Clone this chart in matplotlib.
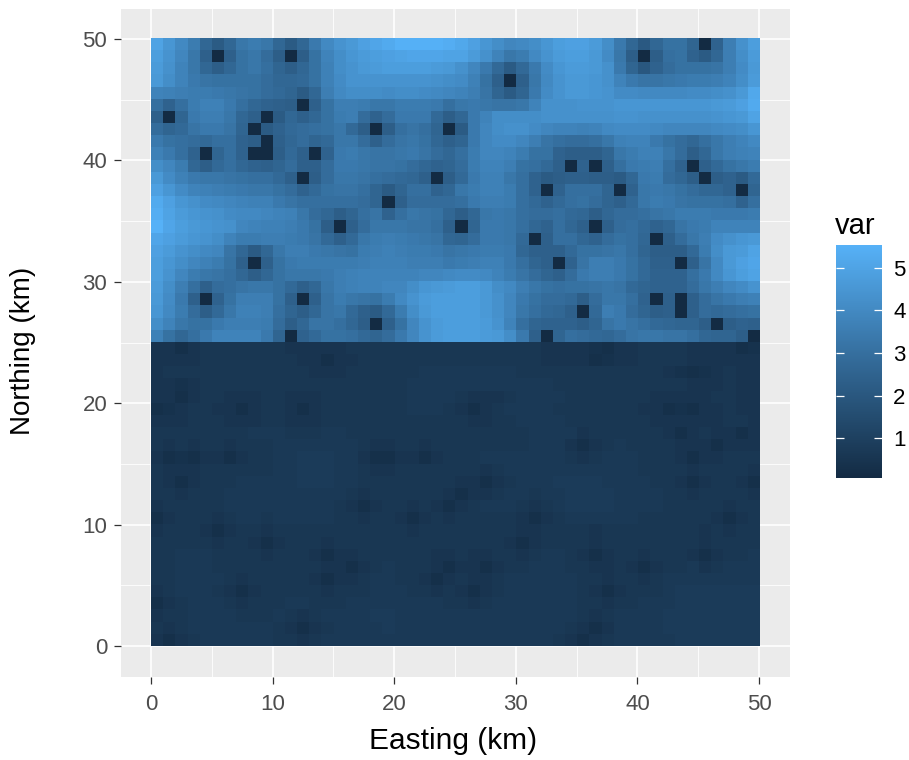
"""Northing/Easting raster of var, ggplot look."""

import matplotlib
matplotlib.use("Agg")
import matplotlib.pyplot as plt
import numpy as np
from matplotlib.colors import LinearSegmentedColormap

plt.rcParams["font.family"] = ["Liberation Sans", "DejaVu Sans"]

# var x 10, one row per northing cell from 49 (top) down to 25
UPPER_ROWS = [
    [50,45,40,35,27,22,27,33,35,33,27,22,27,34,40,44,46,49,51,53,55,55,55,55,54, 52,49,45,42,39,40,42,45,48,49,49,47,42,34,27,21,27,31,31,26,1,25,36,43,48],
    [48,44,39,33,24,1,24,31,33,29,23,1,23,31,38,42,45,47,48,49,50,51,51,51,50, 50,47,43,38,33,35,40,44,47,48,48,46,41,33,23,1,23,30,31,25,22,27,36,42,47],
    [47,43,38,33,27,23,27,31,33,30,26,23,27,31,37,42,44,46,47,48,48,48,48,47,46, 43,39,34,28,22,28,34,41,45,47,47,46,43,34,26,20,25,29,31,31,31,32,36,41,46],
    [46,42,38,34,32,31,31,31,31,29,27,27,28,31,37,41,44,44,44,44,44,44,44,43,42, 41,37,31,24,1,24,33,40,44,46,46,45,43,38,34,32,32,33,34,35,35,36,38,42,47],
    [38,37,36,35,35,34,33,32,31,29,28,26,22,27,36,40,42,42,42,41,42,42,41,40,39, 38,36,32,26,22,26,34,41,44,46,46,45,44,41,41,40,40,40,40,41,41,42,43,46,52],
    [30,25,30,35,37,37,34,30,27,25,24,23,1,24,31,36,36,35,33,33,35,35,35,34,30, 33,34,33,32,32,33,38,43,43,43,44,44,44,45,45,45,45,45,45,45,45,46,47,49,53],
    [24,1,26,34,36,36,33,27,24,1,22,27,24,27,31,35,36,29,25,29,34,34,34,28,23, 27,34,38,42,42,42,42,43,43,43,43,43,43,44,44,43,43,43,43,43,43,44,45,46,50],
    [29,26,28,32,34,34,32,26,1,22,25,28,29,30,31,33,28,23,1,23,30,32,30,26,1, 22,34,39,42,43,43,41,39,38,38,37,38,40,41,41,41,40,39,39,39,39,40,41,42,45],
    [34,31,30,29,28,30,30,25,23,1,24,27,29,26,28,33,33,29,24,29,32,33,31,27,24, 26,34,39,41,41,39,36,32,30,29,29,30,33,37,38,38,34,31,29,27,30,33,36,38,40],
    [37,34,30,25,1,26,30,25,1,1,23,28,24,1,25,34,35,33,32,32,33,34,32,29,27, 30,35,39,39,38,35,31,31,25,23,23,23,26,33,35,37,37,33,29,23,27,33,36,37,38],
    [42,39,35,27,23,28,30,27,25,24,26,29,24,24,29,34,34,33,32,32,31,29,27,25,26, 29,35,38,38,36,31,30,28,24,1,25,1,24,30,34,35,36,30,25,1,24,28,31,33,35],
    [46,41,37,34,33,33,32,31,30,30,28,24,1,23,29,33,33,32,30,29,28,27,24,1,23, 28,34,37,37,33,30,25,22,23,24,24,23,23,22,27,34,35,29,27,23,1,23,25,22,28],
    [49,45,41,38,37,36,35,34,33,33,31,29,25,28,31,32,32,30,26,22,26,30,30,25,27, 33,35,37,37,35,30,25,1,25,30,30,30,26,1,25,33,34,33,31,29,27,27,25,1,26],
    [53,49,45,43,41,40,39,38,37,37,34,32,30,30,30,30,30,29,26,1,24,29,29,29,29, 30,34,36,36,35,30,28,25,28,30,31,29,26,24,28,33,35,34,32,31,31,31,30,25,30],
    [54,50,47,45,44,43,41,40,40,39,38,37,33,29,27,23,26,30,32,25,30,33,32,31,27, 23,27,33,34,33,30,29,29,30,28,27,23,27,29,29,30,32,33,35,35,35,34,34,34,35],
    [56,51,48,46,45,44,43,39,38,37,37,36,34,31,23,1,24,29,33,33,33,32,32,30,24, 1,26,34,34,33,30,27,25,30,27,24,1,24,29,30,28,25,27,32,34,35,38,38,38,38],
    [51,49,47,45,44,42,38,35,35,36,36,35,34,32,28,24,28,33,35,36,35,34,33,32,27, 26,29,34,34,33,28,1,24,30,30,27,25,29,31,30,27,1,24,29,33,36,41,43,45,46],
    [49,47,44,42,40,39,32,27,22,27,33,36,36,34,33,32,31,35,36,37,36,35,35,34,32, 33,34,35,35,34,27,24,24,24,28,31,31,32,33,30,26,23,23,23,28,35,42,46,47,50],
    [48,45,42,39,37,35,31,24,1,24,31,34,35,35,35,35,35,36,37,37,37,36,36,36,34, 35,36,37,37,34,30,26,24,1,25,32,36,36,34,31,28,24,24,1,24,32,40,46,49,51],
    [48,44,39,35,33,32,30,27,23,27,31,33,33,33,34,36,37,38,38,38,38,38,39,39,40, 41,41,40,38,35,32,29,26,24,29,34,36,36,34,31,28,25,25,25,30,34,40,45,48,50],
    [47,42,36,30,24,29,30,32,33,33,31,28,24,27,33,36,37,38,38,39,39,42,45,46,47, 48,48,46,42,40,36,33,31,30,31,31,32,33,32,28,26,25,25,25,29,33,36,39,41,44],
    [46,41,34,24,1,25,31,36,36,36,31,24,1,24,32,35,33,32,31,35,40,44,47,48,48, 48,48,46,43,39,34,31,29,29,28,23,29,33,33,30,25,1,24,1,24,29,32,34,36,37],
    [45,40,35,29,23,28,33,37,37,36,30,26,23,27,32,33,28,24,22,28,35,42,46,48,48, 48,48,46,43,39,33,30,28,27,24,1,28,36,34,29,26,23,24,1,24,29,28,29,30,31],
    [42,38,33,31,31,34,36,36,36,35,29,23,27,32,32,30,27,23,1,24,31,39,44,47,48, 48,48,47,44,38,30,26,25,25,25,23,26,32,34,32,30,28,27,26,26,23,1,23,25,24],
    [37,31,27,30,34,38,38,38,38,34,26,1,25,28,31,31,30,28,26,29,34,39,44,47,48, 48,48,47,46,42,34,24,1,26,30,29,28,27,29,32,33,33,32,32,30,27,26,26,23,1],
]

# var x 10, northing cells 24 down to 0
LOWER_ROWS = [
    [5,5,3,5,6,6,6,6,6,6,6,5,5,5,5,5,6,6,6,6,6,6,6,6,6, 6,6,6,6,6,6,6,5,5,5,5,4,3,5,5,6,6,6,6,5,5,5,5,3,4],
    [5,5,5,5,6,6,6,6,6,6,6,6,5,5,3,5,5,6,6,6,6,6,6,6,6, 6,6,6,6,6,6,6,5,5,5,5,3,4,5,5,6,6,6,6,5,5,5,5,5,5],
    [5,6,6,6,6,6,6,6,6,6,6,6,6,5,5,5,6,6,6,6,6,6,7,7,7, 7,7,7,7,7,6,6,6,6,6,6,6,6,6,6,6,6,5,4,3,4,5,6,5,5],
    [5,5,4,5,6,6,6,6,6,6,6,6,6,6,6,6,6,6,6,6,6,7,7,7,7, 7,7,7,7,7,7,7,7,6,6,6,6,6,6,6,6,6,6,6,5,5,5,6,5,5],
    [5,5,3,5,6,6,5,5,5,6,6,5,5,5,6,6,6,6,6,6,6,7,7,7,7, 6,5,5,5,6,7,7,7,7,6,6,6,6,6,6,6,5,5,5,5,5,6,6,5,5],
    [3,4,5,6,6,5,5,3,5,6,6,5,3,5,6,6,6,6,6,6,6,7,7,7,6, 5,3,5,6,7,7,7,7,6,6,6,6,6,6,6,5,5,3,4,3,5,5,6,5,5],
    [5,5,5,6,6,6,5,5,5,6,6,5,5,5,6,6,6,6,6,6,6,6,6,6,6, 6,5,5,6,6,7,7,7,7,6,6,6,6,6,6,6,5,5,5,5,5,5,6,6,5],
    [6,6,6,6,6,6,6,6,7,7,7,6,6,6,7,7,6,6,6,6,6,6,6,6,6, 6,6,6,6,6,6,7,7,7,7,5,6,6,6,6,6,6,5,3,5,6,5,5,3,5],
    [6,5,6,5,6,6,5,6,6,6,7,7,7,7,7,7,7,6,5,5,6,6,5,6,6, 6,6,6,6,6,6,7,7,7,5,3,5,6,7,6,6,6,6,5,5,5,3,5,5,5],
    [5,3,4,3,5,5,3,5,6,6,7,7,8,8,8,7,7,5,3,3,5,5,3,5,6, 6,6,7,7,7,7,7,7,7,6,5,6,7,7,7,6,6,6,5,3,5,5,6,6,6],
    [6,5,5,5,6,6,6,6,6,6,7,7,8,8,8,7,7,6,5,5,6,6,6,6,6, 6,6,5,6,7,7,7,7,7,7,7,7,7,7,7,6,6,6,6,5,6,6,6,6,5],
    [6,5,3,5,6,6,6,7,7,7,7,7,8,8,8,7,7,6,6,6,6,6,6,6,6, 5,5,3,5,6,7,7,7,8,8,8,8,7,7,7,7,6,6,5,3,5,6,6,5,3],
    [6,6,5,6,6,6,7,7,7,7,7,7,7,7,7,7,6,5,6,6,6,6,6,6,5, 3,5,5,6,7,7,6,7,7,8,8,8,8,7,7,7,7,6,6,5,6,6,6,6,5],
    [5,6,6,6,6,6,7,7,7,7,7,7,7,7,7,6,5,3,5,6,6,5,6,5,3, 5,6,7,7,7,6,5,6,7,8,8,8,8,7,7,7,7,6,6,6,6,6,5,6,6],
    [3,5,6,6,6,5,6,7,7,6,7,7,7,7,7,6,6,5,6,6,5,3,5,6,5, 6,6,6,6,6,5,3,5,6,7,7,7,7,7,7,6,6,6,6,6,6,5,3,5,6],
    [5,6,6,6,5,3,5,6,6,5,6,6,6,6,6,6,6,6,6,6,6,5,6,6,6, 6,6,6,6,6,5,5,6,6,6,6,5,6,6,6,6,6,6,6,6,5,6,5,6,6],
    [6,6,6,6,6,5,6,6,5,3,5,6,6,6,5,6,6,6,6,6,6,6,6,6,6, 6,6,6,6,5,3,5,6,6,6,6,5,6,6,6,6,6,6,6,6,5,6,6,6,6],
    [6,6,7,7,7,6,6,6,6,5,6,6,6,5,3,5,5,6,6,6,6,6,6,5,5, 6,5,5,6,6,5,6,7,7,6,5,3,5,6,6,5,6,6,6,5,3,5,6,6,7],
    [6,6,7,7,7,6,6,6,6,6,6,6,6,6,5,5,3,5,6,7,6,6,6,5,3, 5,5,3,5,6,6,7,7,7,6,6,5,5,6,5,3,5,6,6,7,5,6,7,7,7],
    [6,6,7,7,7,7,6,5,6,6,6,6,6,5,3,5,5,6,7,7,6,6,5,3,5, 6,5,5,6,7,7,7,7,7,7,6,6,5,6,6,5,6,7,7,7,7,7,7,7,7],
    [5,6,7,7,7,6,5,3,5,6,6,6,6,6,5,6,6,6,7,7,7,6,6,5,6, 5,3,5,6,7,7,7,7,7,7,6,5,3,5,6,6,6,7,8,8,8,8,8,8,8],
    [3,5,6,7,7,7,6,5,6,6,6,7,7,6,6,6,7,7,7,7,7,7,7,7,6, 6,5,6,7,7,7,7,7,7,7,6,6,5,6,6,7,7,7,8,8,8,8,8,8,8],
    [5,6,6,7,7,7,7,6,6,6,7,6,5,6,7,7,7,7,8,8,7,7,7,7,7, 7,7,7,7,7,7,7,7,7,7,6,5,6,7,7,7,7,8,8,8,8,8,8,8,8],
    [6,5,6,7,7,7,7,7,7,7,6,5,3,5,6,7,7,7,7,8,7,7,7,7,7, 7,7,7,7,7,7,7,7,7,6,5,3,5,7,7,7,7,8,8,8,8,8,8,8,8],
    [5,3,5,6,7,7,7,7,7,7,6,6,5,6,7,7,7,7,7,7,7,7,7,7,7, 7,7,7,7,7,7,7,7,6,5,3,5,6,7,7,7,7,7,8,8,8,8,8,8,8],
]

X_TICKS = [0, 10, 20, 30, 40, 50]
Y_TICKS = [0, 10, 20, 30, 40, 50]
MINOR_TICKS = [5, 15, 25, 35, 45]
VAR_TICKS = [1, 2, 3, 4, 5]
VAR_MIN = 0.06
VAR_MAX = 5.54

FIG_W, FIG_H = 909, 760

var = np.array(UPPER_ROWS + LOWER_ROWS) / 10.0
# ggplot default blues, midpoint added because the scale runs through Lab
cmap = LinearSegmentedColormap.from_list("gg_blues", ["#132B43", "#336A98", "#56B1F7"])

fig = plt.figure(figsize=(FIG_W / 100, FIG_H / 100), dpi=100)
ax = fig.add_axes([120.5 / FIG_W, (FIG_H - 676.5) / FIG_H, 669 / FIG_W, 668 / FIG_H])
ax.set_facecolor("#EBEBEB")

im = ax.imshow(var, extent=(0, 50, 0, 50), origin="upper", aspect="auto",
               cmap=cmap, vmin=VAR_MIN, vmax=VAR_MAX, interpolation="nearest", zorder=2)

ax.set_xlim(-2.5, 52.5)
ax.set_ylim(-2.5, 52.5)
ax.set_xticks(X_TICKS)
ax.set_yticks(Y_TICKS)
ax.set_xticks(MINOR_TICKS, minor=True)
ax.set_yticks(MINOR_TICKS, minor=True)
ax.grid(True, which="major", color="white", linewidth=1.2, zorder=1)
ax.grid(True, which="minor", color="white", linewidth=0.6, zorder=1)
ax.set_axisbelow(True)
ax.tick_params(which="major", length=5, width=0.9, color="#333333",
               labelcolor="#4D4D4D", labelsize=16, pad=4.5)
ax.tick_params(axis="x", which="major", pad=7.5)
ax.tick_params(which="minor", length=0)
for spine in ax.spines.values():
    spine.set_visible(False)
fig.text(453 / FIG_W, (FIG_H - 741) / FIG_H, "Easting (km)", fontsize=21.5,
         ha="center", va="center")
fig.text(23 / FIG_W, (FIG_H - 351) / FIG_H, "Northing (km)", fontsize=20,
         rotation=90, ha="center", va="center")

# legend bar
cax = fig.add_axes([836 / FIG_W, (FIG_H - 478) / FIG_H, 46 / FIG_W, 233 / FIG_H])
cbar = fig.colorbar(im, cax=cax)
cbar.set_ticks(VAR_TICKS)
cbar.outline.set_visible(False)
cax.tick_params(left=True, right=True, direction="in", length=5.8, width=0.9,
                color="white", labelcolor="black", labelsize=16, pad=8)
fig.text(835 / FIG_W, (FIG_H - 226) / FIG_H, "var", fontsize=21, ha="left", va="center")

fig.savefig("out.png", dpi=100)
